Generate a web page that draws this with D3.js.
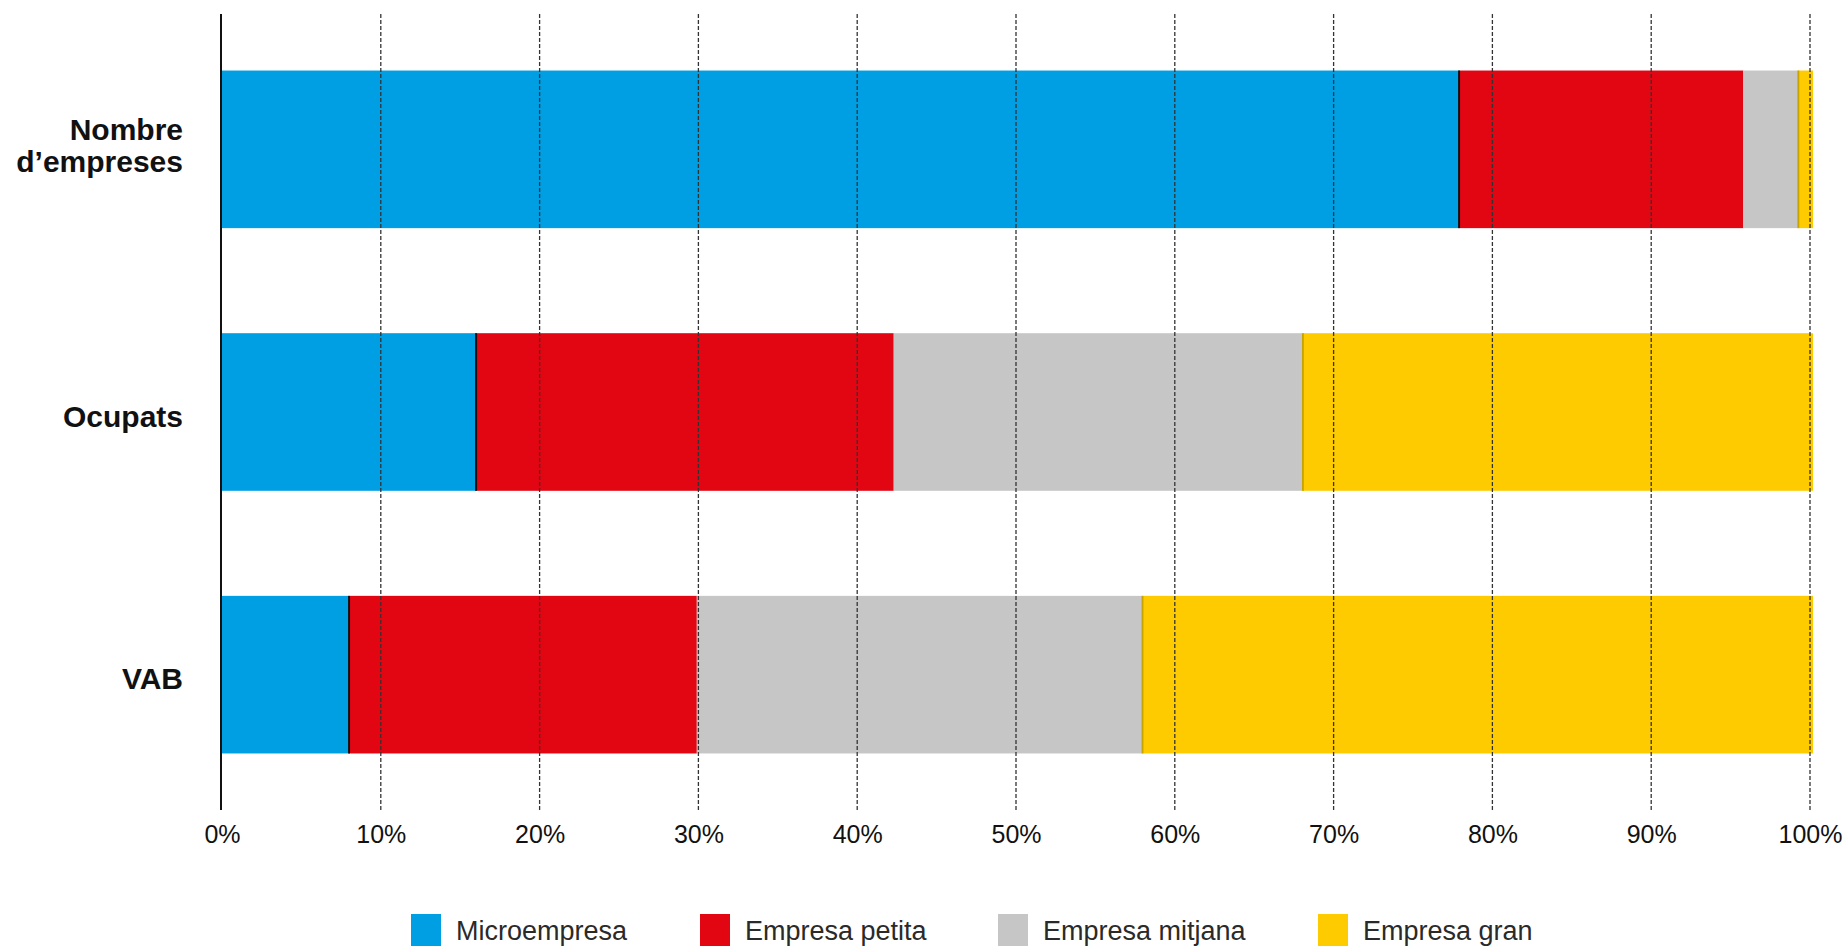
<!DOCTYPE html>
<html>
<head>
<meta charset="utf-8">
<script src="https://cdn.jsdelivr.net/npm/d3@7"></script>
<style>
  html, body { margin: 0; padding: 0; background: #fff; }
  svg { display: block; }
  .cat { font-family: "Liberation Sans", Arial, sans-serif; font-weight: bold; font-size: 30px; fill: #111; }
  .tick-lbl { font-family: "Liberation Sans Narrow", "Arial Narrow", "Liberation Sans", sans-serif; font-size: 25px; fill: #111; }
  .leg-lbl { font-family: "Liberation Sans Narrow", "Arial Narrow", "Liberation Sans", sans-serif; font-size: 27px; fill: #2a2a2a; }
</style>
</head>
<body>
<svg id="chart" width="1845" height="946"></svg>
<script>
// ---- data ----
const categories = ["Nombre d’empreses", "Ocupats", "VAB"];
const categoryLines = [["Nombre", "d’empreses"], ["Ocupats"], ["VAB"]];
const seriesNames = ["Microempresa", "Empresa petita", "Empresa mitjana", "Empresa gran"];
const microempresa = [77.9, 16.0, 8.0];
const empresaPetita = [17.9, 26.3, 21.9];
const empresaMitjana = [3.4, 25.7, 28.0];
const empresaGran = [0.8, 32.0, 42.1];
const tickValues = [0, 10, 20, 30, 40, 50, 60, 70, 80, 90, 100];
const colors = ["#009FE3", "#E20613", "#C6C6C6", "#FECB00"];

const svg = d3.select("#chart");

const x = d3.scaleLinear().domain([0, 100]).range([222, 1810]);
const y = d3.scaleBand().domain(categories).range([18, 806]).paddingInner(0.4).paddingOuter(0.2);

const rows = categories.map((c, i) => ({
  cat: c,
  "Microempresa": microempresa[i],
  "Empresa petita": empresaPetita[i],
  "Empresa mitjana": empresaMitjana[i],
  "Empresa gran": empresaGran[i]
}));
const stacked = d3.stack().keys(seriesNames)(rows);

// bars
const layers = svg.append("g").selectAll("g").data(stacked).join("g")
  .attr("fill", (d, i) => colors[i]);
layers.selectAll("rect").data(d => d).join("rect")
  .attr("x", d => x(d[0]))
  .attr("y", d => y(d.data.cat))
  .attr("width", d => x(d[1]) - x(d[0]) + (d[1] >= 99.99 ? 3 : 0))
  .attr("height", y.bandwidth());

// boundary lines: black after microempresa, dark gold before gran
svg.append("g").selectAll("line").data(stacked[0]).join("line")
  .attr("x1", d => x(d[1])).attr("x2", d => x(d[1]))
  .attr("y1", d => y(d.data.cat)).attr("y2", d => y(d.data.cat) + y.bandwidth())
  .attr("stroke", "#111").attr("stroke-width", 2);
svg.append("g").selectAll("line").data(stacked[3]).join("line")
  .attr("x1", d => x(d[0]) + 1).attr("x2", d => x(d[0]) + 1)
  .attr("y1", d => y(d.data.cat)).attr("y2", d => y(d.data.cat) + y.bandwidth())
  .attr("stroke", "#C9A400").attr("stroke-width", 2);

// gridlines (on top of bars)
const gridTop = 14, gridBottom = 810;
svg.append("g").selectAll("line").data(tickValues.filter(v => v > 0)).join("line")
  .attr("x1", d => x(d)).attr("x2", d => x(d))
  .attr("y1", gridTop).attr("y2", gridBottom)
  .attr("stroke", "#333").attr("stroke-width", 1.3)
  .attr("stroke-dasharray", "4,2");

// zero axis line
svg.append("line")
  .attr("x1", x(0) - 1).attr("x2", x(0) - 1)
  .attr("y1", gridTop).attr("y2", gridBottom)
  .attr("stroke", "#111").attr("stroke-width", 2);

// x tick labels via axis
const xAxis = d3.axisBottom(x).tickValues(tickValues).tickFormat(d => d + "%").tickSize(0);
const gx = svg.append("g").attr("transform", `translate(0, 822)`).call(xAxis);
gx.select(".domain").remove();
gx.selectAll("text").attr("class", "tick-lbl").attr("dy", "0.71em").attr("font-size", null).attr("font-family", null).attr("fill", null);

// category labels
const catG = svg.append("g");
categories.forEach((c, i) => {
  const lines = categoryLines[i];
  const center = y(c) + y.bandwidth() / 2;
  const cy = lines.length > 1 ? center - 4 : center + 4;
  const lh = 32;
  const t = catG.append("text").attr("class", "cat").attr("text-anchor", "end");
  lines.forEach((ln, j) => {
    t.append("tspan").attr("x", 183)
      .attr("y", cy + (j - (lines.length - 1) / 2) * lh)
      .attr("dy", "0.35em").text(ln);
  });
});

// legend
const legendX = [411, 700, 998, 1318];
const leg = svg.append("g").selectAll("g").data(seriesNames).join("g")
  .attr("transform", (d, i) => `translate(${legendX[i]}, 914)`);
leg.append("rect").attr("width", 30).attr("height", 34).attr("fill", (d, i) => colors[i]);
leg.append("text").attr("class", "leg-lbl").attr("x", 45).attr("y", 17).attr("dy", "0.35em").text(d => d);
</script>
</body>
</html>
